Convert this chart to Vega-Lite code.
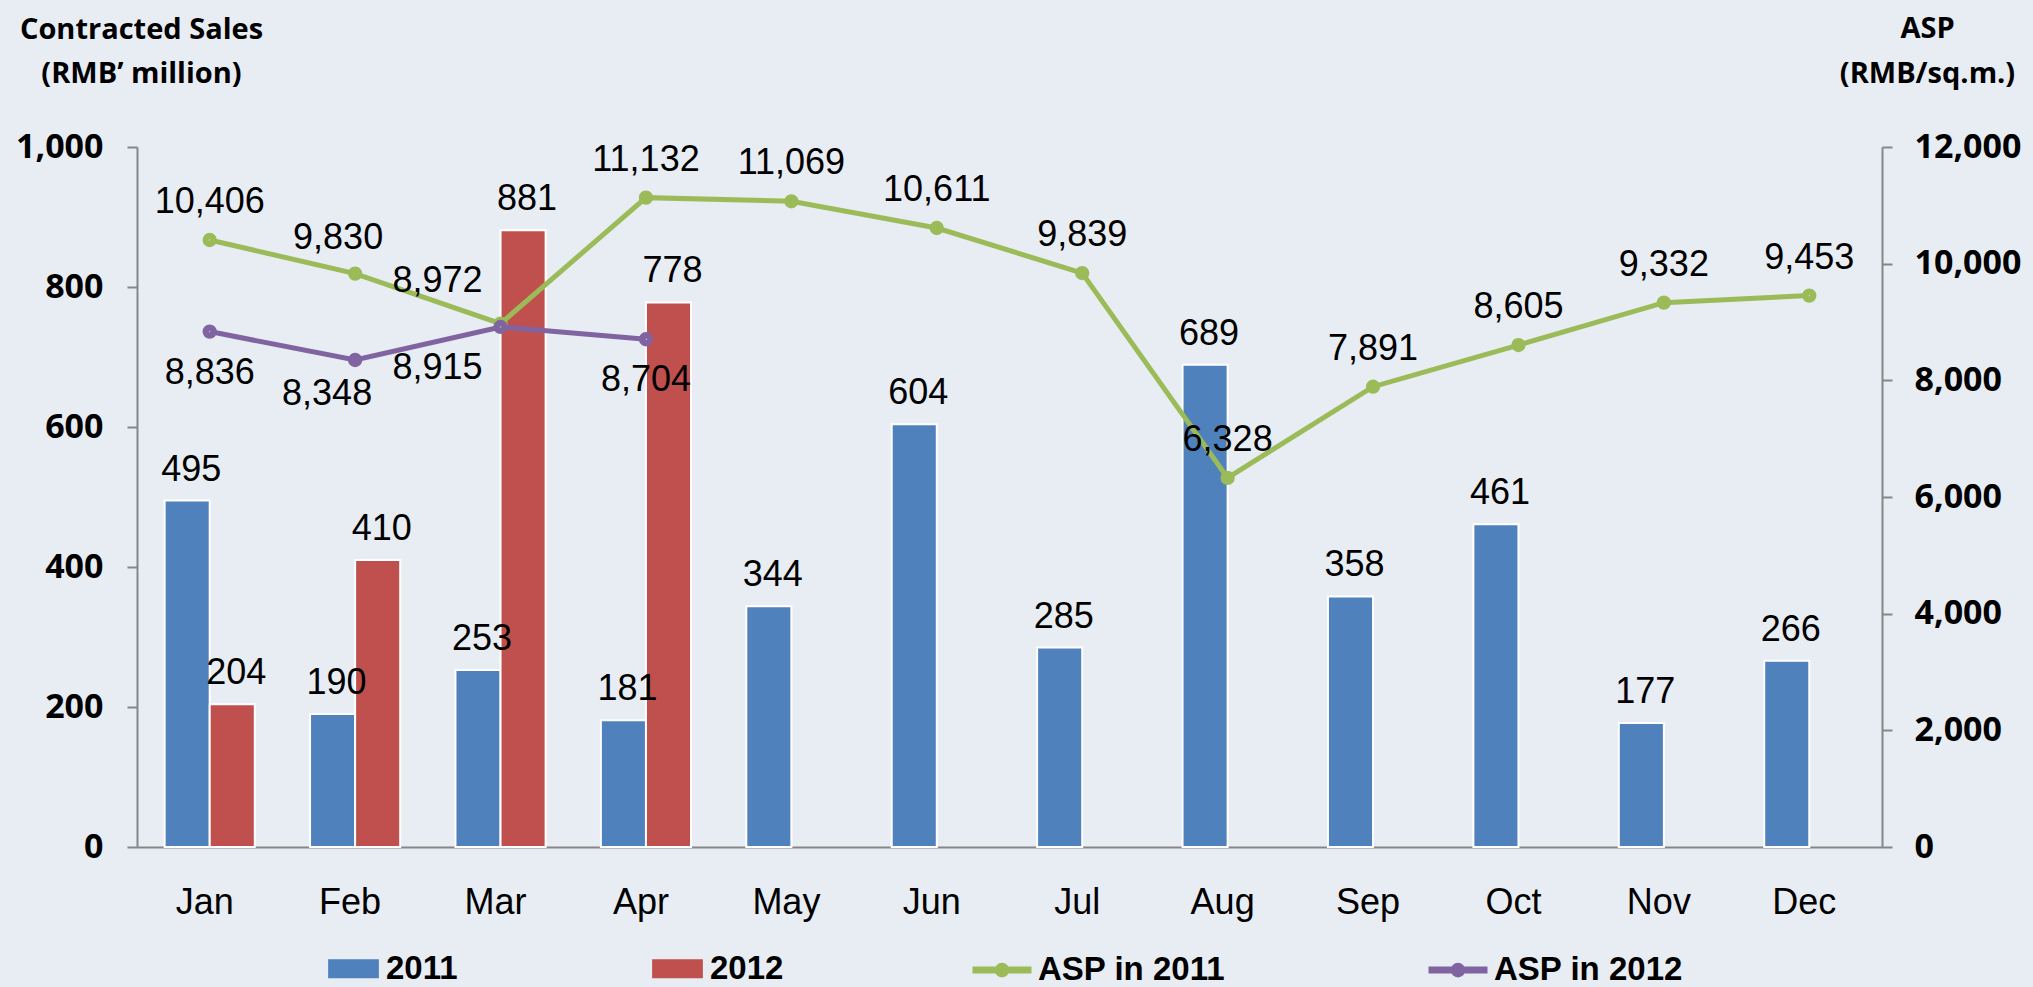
{
  "$schema": "https://vega.github.io/schema/vega-lite/v6.json",
  "width": 1745,
  "height": 700,
  "autosize": {"type": "none"},
  "padding": {"left": 137, "top": 147, "right": 151, "bottom": 140},
  "background": "#e8ecf3",
  "config": {"view": {"stroke": null}, "axis": {"grid": false}},
  "datasets": {
    "sales": [
      {"month": "Jan", "year": "2011", "sales": 495},
      {"month": "Feb", "year": "2011", "sales": 190},
      {"month": "Mar", "year": "2011", "sales": 253},
      {"month": "Apr", "year": "2011", "sales": 181},
      {"month": "May", "year": "2011", "sales": 344},
      {"month": "Jun", "year": "2011", "sales": 604},
      {"month": "Jul", "year": "2011", "sales": 285},
      {"month": "Aug", "year": "2011", "sales": 689},
      {"month": "Sep", "year": "2011", "sales": 358},
      {"month": "Oct", "year": "2011", "sales": 461},
      {"month": "Nov", "year": "2011", "sales": 177},
      {"month": "Dec", "year": "2011", "sales": 266},
      {"month": "Jan", "year": "2012", "sales": 204},
      {"month": "Feb", "year": "2012", "sales": 410},
      {"month": "Mar", "year": "2012", "sales": 881},
      {"month": "Apr", "year": "2012", "sales": 778}
    ],
    "asp": [
      {"month": "Jan", "series": "ASP in 2011", "asp": 10406},
      {"month": "Feb", "series": "ASP in 2011", "asp": 9830},
      {"month": "Mar", "series": "ASP in 2011", "asp": 8972},
      {"month": "Apr", "series": "ASP in 2011", "asp": 11132},
      {"month": "May", "series": "ASP in 2011", "asp": 11069},
      {"month": "Jun", "series": "ASP in 2011", "asp": 10611},
      {"month": "Jul", "series": "ASP in 2011", "asp": 9839},
      {"month": "Aug", "series": "ASP in 2011", "asp": 6328},
      {"month": "Sep", "series": "ASP in 2011", "asp": 7891},
      {"month": "Oct", "series": "ASP in 2011", "asp": 8605},
      {"month": "Nov", "series": "ASP in 2011", "asp": 9332},
      {"month": "Dec", "series": "ASP in 2011", "asp": 9453},
      {"month": "Jan", "series": "ASP in 2012", "asp": 8836},
      {"month": "Feb", "series": "ASP in 2012", "asp": 8348},
      {"month": "Mar", "series": "ASP in 2012", "asp": 8915},
      {"month": "Apr", "series": "ASP in 2012", "asp": 8704}
    ]
  },
  "encoding": {
    "x": {
      "field": "month",
      "type": "nominal",
      "sort": ["Jan", "Feb", "Mar", "Apr", "May", "Jun", "Jul", "Aug", "Sep", "Oct", "Nov", "Dec"],
      "scale": {"paddingInner": 0.38, "paddingOuter": 0.19},
      "axis": {
        "title": null,
        "labelAngle": 0,
        "labelFont": "Liberation Sans",
        "labelFontSize": 36,
        "labelColor": "#000000",
        "ticks": false,
        "labelPadding": 38,
        "labelOffset": -5,
        "domainColor": "#868686",
        "domainWidth": 2
      }
    }
  },
  "layer": [
    {
      "data": {"name": "sales"},
      "encoding": {
        "y": {
          "field": "sales",
          "type": "quantitative",
          "scale": {"domain": [0, 1000], "nice": false},
          "axis": {
            "orient": "left",
            "values": [0, 200, 400, 600, 800, 1000],
            "format": ",.0f",
            "labelFont": "Open Sans",
            "labelFontWeight": "bold",
            "labelFontSize": 34,
            "labelColor": "#000000",
            "labelPadding": 24,
            "labelLimit": 300,
            "tickSize": 10,
            "tickColor": "#868686",
            "tickWidth": 2,
            "domainColor": "#868686",
            "domainWidth": 2,
            "title": ["Contracted Sales", "(RMB’ million)"],
            "titleAngle": 0,
            "titleX": 4,
            "titleY": -109,
            "titleAlign": "center",
            "titleBaseline": "alphabetic",
            "titleFont": "Open Sans",
            "titleFontWeight": "bold",
            "titleFontSize": 29,
            "titleLineHeight": 44,
            "titleColor": "#000000"
          }
        },
        "xOffset": {"field": "year", "type": "nominal", "scale": {"domain": ["2011", "2012"], "paddingInner": 0, "paddingOuter": 0}}
      },
      "layer": [
        {
          "mark": {"type": "bar", "stroke": "#ffffff", "strokeWidth": 2},
          "encoding": {
            "fill": {
              "field": "year",
              "type": "nominal",
              "scale": {"domain": ["2011", "2012"], "range": ["#4f81bd", "#c0504d"]},
              "legend": {
                "title": null,
                "orient": "none",
                "legendX": 187,
                "legendY": 792,
                "direction": "horizontal",
                "columns": 2,
                "columnPadding": 190,
                "padding": 0,
                "symbolType": "M-0.86,-0.32H0.86V0.32H-0.86Z",
                "symbolSize": 3481,
                "symbolStrokeWidth": 0,
                "labelFont": "Liberation Sans",
                "labelFontSize": 33,
                "labelFontWeight": "bold",
                "labelColor": "#000000",
                "labelLimit": 400,
                "labelOffset": 3
              }
            }
          }
        },
        {
          "mark": {"type": "text", "dy": -20, "dx": 4, "baseline": "alphabetic", "font": "Liberation Sans", "fontSize": 36, "fill": "#000000"},
          "encoding": {"text": {"field": "sales", "type": "quantitative", "format": ","}}
        }
      ]
    },
    {
      "data": {"name": "asp"},
      "encoding": {
        "y": {
          "field": "asp",
          "type": "quantitative",
          "scale": {"domain": [0, 12000], "nice": false},
          "axis": {
            "orient": "right",
            "values": [0, 2000, 4000, 6000, 8000, 10000, 12000],
            "format": ",.0f",
            "labelFont": "Open Sans",
            "labelFontWeight": "bold",
            "labelFontSize": 34,
            "labelColor": "#000000",
            "labelPadding": 22,
            "labelLimit": 300,
            "tickSize": 10,
            "tickColor": "#868686",
            "tickWidth": 2,
            "domainColor": "#868686",
            "domainWidth": 2,
            "title": ["ASP", "(RMB/sq.m.)"],
            "titleAngle": 0,
            "titleX": 45,
            "titleY": -110,
            "titleAlign": "center",
            "titleBaseline": "alphabetic",
            "titleFont": "Open Sans",
            "titleFontWeight": "bold",
            "titleFontSize": 29,
            "titleLineHeight": 45,
            "titleColor": "#000000"
          }
        }
      },
      "layer": [
        {
          "mark": {"type": "line", "strokeWidth": 5},
          "encoding": {
            "stroke": {
              "field": "series",
              "type": "nominal",
              "scale": {"domain": ["ASP in 2011", "ASP in 2012"], "range": ["#9bbb59", "#8064a2"]},
              "legend": {
                "title": null,
                "orient": "none",
                "legendX": 832,
                "legendY": 790,
                "direction": "horizontal",
                "columns": 2,
                "columnPadding": 188,
                "padding": 0,
                "symbolType": "M-1,0H1M0.13,0A0.13,0.13 0 1 1 -0.13,0A0.13,0.13 0 1 1 0.13,0Z",
                "symbolSize": 3481,
                "symbolStrokeWidth": 7,
                "labelFont": "Liberation Sans",
                "labelFontSize": 33,
                "labelFontWeight": "bold",
                "labelColor": "#000000",
                "labelLimit": 400,
                "labelOffset": 3
              }
            }
          }
        },
        {
          "mark": {"type": "point", "filled": false, "size": 40, "strokeWidth": 8, "opacity": 1},
          "encoding": {
            "stroke": {"field": "series", "type": "nominal"}
          }
        },
        {
          "transform": [{"filter": "datum.series === 'ASP in 2011' && datum.month !== 'Feb' && datum.month !== 'Mar'"}],
          "mark": {"type": "text", "dy": -27, "baseline": "alphabetic", "font": "Liberation Sans", "fontSize": 36, "fill": "#000000"},
          "encoding": {"text": {"field": "asp", "type": "quantitative", "format": ","}}
        },
        {
          "transform": [{"filter": "datum.series === 'ASP in 2011' && datum.month === 'Feb'"}],
          "mark": {"type": "text", "dy": -25, "dx": -17, "baseline": "alphabetic", "font": "Liberation Sans", "fontSize": 36, "fill": "#000000"},
          "encoding": {"text": {"field": "asp", "type": "quantitative", "format": ","}}
        },
        {
          "transform": [{"filter": "datum.series === 'ASP in 2011' && datum.month === 'Mar'"}],
          "mark": {"type": "text", "dy": -32, "dx": -63, "baseline": "alphabetic", "font": "Liberation Sans", "fontSize": 36, "fill": "#000000"},
          "encoding": {"text": {"field": "asp", "type": "quantitative", "format": ","}}
        },
        {
          "transform": [{"filter": "datum.series === 'ASP in 2012' && datum.month !== 'Feb' && datum.month !== 'Mar'"}],
          "mark": {"type": "text", "dy": 52, "baseline": "alphabetic", "font": "Liberation Sans", "fontSize": 36, "fill": "#000000"},
          "encoding": {"text": {"field": "asp", "type": "quantitative", "format": ","}}
        },
        {
          "transform": [{"filter": "datum.series === 'ASP in 2012' && datum.month === 'Feb'"}],
          "mark": {"type": "text", "dy": 45, "dx": -28, "baseline": "alphabetic", "font": "Liberation Sans", "fontSize": 36, "fill": "#000000"},
          "encoding": {"text": {"field": "asp", "type": "quantitative", "format": ","}}
        },
        {
          "transform": [{"filter": "datum.series === 'ASP in 2012' && datum.month === 'Mar'"}],
          "mark": {"type": "text", "dy": 52, "dx": -63, "baseline": "alphabetic", "font": "Liberation Sans", "fontSize": 36, "fill": "#000000"},
          "encoding": {"text": {"field": "asp", "type": "quantitative", "format": ","}}
        }
      ]
    }
  ],
  "resolve": {"scale": {"y": "independent"}}
}
